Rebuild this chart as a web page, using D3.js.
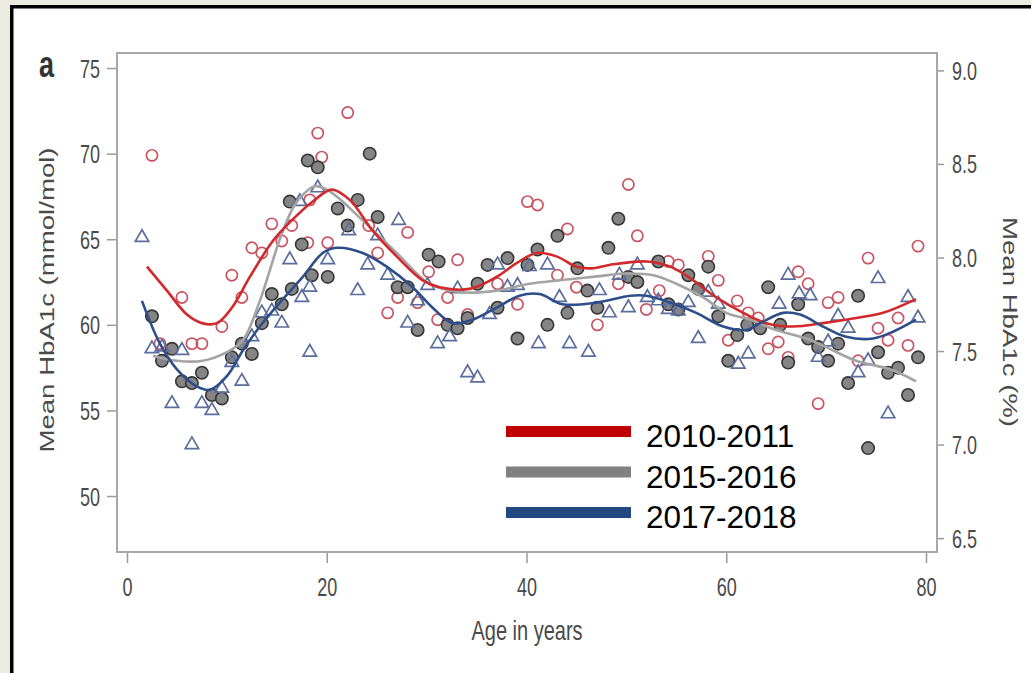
<!DOCTYPE html>
<html>
<head>
<meta charset="utf-8">
<script src="https://cdn.jsdelivr.net/npm/d3@7"></script>
<style>
    body { margin: 0; background: #ecebe2; }
    svg { display: block; }
</style>
</head>
<body>
<div id="chart"></div>
<script>
    // [age, mean HbA1c mmol/mol]
    var pts1011 = [[2.5,69.9],[3.3,58.9],[5.5,61.6],[6.5,58.9],[7.5,58.9],[9.5,59.9],[10.5,62.9],[11.5,61.6],
        [12.5,64.5],[13.5,64.2],[14.5,65.9],[15.5,64.9],[16.5,65.8],[18.1,64.8],[18.3,67.3],[19.1,71.2],
        [19.5,69.8],[20.1,64.8],[22.1,72.4],[24.2,65.8],[25.1,64.2],[26.1,60.7],[27.1,61.6],[28.1,65.4],
        [29.1,61.3],[30.2,63.1],[31.1,60.3],[32.1,61.6],[33.1,63.8],[34.1,60.6],[37.1,62.4],[39.1,61.2],
        [40.1,67.2],[41.1,67.0],[43.1,62.9],[44.1,65.6],[45.0,62.2],[47.1,60.0],[49.2,62.4],[50.2,68.2],
        [51.1,65.2],[52.0,60.9],[53.3,62.0],[54.2,63.7],[55.2,63.5],[58.2,64.0],[59.2,62.6],[60.2,59.1],
        [61.1,61.4],[62.2,60.7],[63.2,60.4],[64.2,58.6],[65.2,59.0],[66.2,58.1],[67.2,63.1],[68.2,62.4],
        [69.2,55.4],[70.2,61.3],[71.2,61.6],[73.2,57.9],[74.2,63.9],[75.2,59.8],[76.2,59.1],[77.2,60.4],
        [78.2,58.8],[79.2,64.6]];

    var pts1516 = [[2.5,60.5],[3.5,57.9],[4.5,58.6],[5.5,56.7],[6.5,56.6],[7.5,57.2],[8.5,55.9],[9.5,55.7],
        [10.5,58.1],[11.5,58.9],[12.5,58.3],[13.5,60.1],[14.5,61.8],[15.5,61.2],[16.3,67.2],[16.5,62.1],
        [17.5,64.7],[18.1,69.6],[18.5,62.9],[19.1,69.2],[20.1,62.8],[21.1,66.8],[22.1,65.8],[23.1,67.3],
        [24.3,70.0],[25.1,66.3],[27.1,62.2],[28.1,62.2],[29.1,59.7],[30.2,64.1],[31.2,63.7],[32.1,60.0],
        [33.1,59.8],[34.1,60.4],[35.1,62.4],[36.1,63.5],[37.1,61.0],[38.1,63.9],[39.1,59.2],[40.1,63.5],
        [41.1,64.4],[42.1,60.0],[43.1,65.2],[44.1,60.7],[45.1,63.3],[46.1,62.0],[47.1,61.0],[48.2,64.5],
        [49.2,66.2],[50.2,62.8],[51.1,62.5],[53.2,63.7],[54.2,61.2],[55.2,60.9],[56.2,62.9],[57.2,62.1],
        [58.2,63.4],[59.2,60.5],[60.2,57.9],[61.1,59.4],[62.1,60.0],[63.4,59.8],[64.2,62.2],[65.4,60.0],
        [66.2,57.8],[67.2,61.2],[68.2,59.2],[69.2,58.7],[70.2,57.9],[71.2,58.9],[72.2,56.6],[73.2,61.7],
        [74.2,52.8],[75.2,58.4],[76.2,57.2],[77.2,57.5],[78.2,55.9],[79.2,58.1]];

    var pts1718 = [[1.5,65.1],[2.5,58.6],[3.5,58.7],[4.5,55.4],[5.5,58.5],[6.5,53.0],[7.5,55.4],[8.5,55.0],
        [9.5,56.3],[10.5,57.8],[11.5,56.7],[12.5,59.3],[13.5,60.7],[14.5,60.8],[15.5,60.1],[16.3,63.8],
        [17.3,67.2],[17.5,61.6],[18.3,62.2],[18.3,58.4],[19.1,68.0],[20.1,63.8],[22.2,65.5],[23.1,62.0],
        [24.1,63.5],[25.1,65.2],[26.1,62.9],[27.2,66.1],[28.1,60.1],[29.1,61.4],[30.1,62.3],[31.1,58.9],
        [32.3,59.3],[33.1,62.1],[34.1,57.2],[35.1,56.9],[36.3,60.6],[37.1,63.5],[38.1,62.2],[39.1,62.3],
        [40.3,63.4],[41.2,58.9],[42.1,63.5],[43.3,61.6],[44.3,58.9],[46.2,58.4],[47.3,62.0],[48.3,60.7],
        [49.3,62.9],[50.2,61.0],[51.1,63.5],[52.1,61.6],[53.2,61.4],[54.2,60.9],[55.2,60.8],[56.2,61.3],
        [57.2,59.2],[58.2,61.9],[59.2,61.2],[61.2,57.7],[62.2,58.3],[65.3,61.2],[66.2,62.9],[67.3,61.8],
        [68.4,61.7],[69.2,58.1],[70.2,59.0],[71.2,60.5],[72.2,59.8],[73.2,57.2],[74.2,57.9],[75.2,62.7],
        [76.2,54.8],[78.2,61.6],[79.2,60.4]];

    // smoothed curves
    var fit1011 = [[2,63.4],[4,62.0],[6,60.6],[7.5,60.1],[9,60.1],[10.5,61.0],[12.3,62.8],[14.6,64.9],
        [16.5,66.1],[18.6,67.2],[20.5,67.9],[22.3,67.3],[24.6,65.5],[27,64.0],[29.6,62.6],[31.3,62.2],
        [34.3,62.1],[37,62.8],[39,63.6],[41,64.2],[43,64.0],[45,63.4],[46.5,63.3],[48.3,63.5],[52,63.7],
        [54.4,63.4],[56.7,62.6],[59,61.6],[61.7,60.7],[64,60.1],[66.7,59.9],[69.7,60.1],[73,60.4],
        [75.7,60.7],[79,61.5]];
    var fit1516 = [[2.6,58.2],[5,57.9],[7.6,57.9],[10,58.4],[11.6,59.1],[13.3,61.4],[15.3,65.0],[16.5,66.7],
        [17.3,67.4],[18.8,68.1],[20.3,67.8],[23.6,66.1],[27,64.2],[30.3,62.4],[33.6,61.9],[37,62.0],
        [40.3,62.4],[43.3,62.6],[46.6,62.8],[50,63.0],[52.7,62.9],[55,62.4],[57.7,61.6],[60,60.7],
        [62.4,60.3],[65,59.7],[68,59.2],[70,58.7],[73,57.9],[76.4,57.4],[79,56.7]];
    var fit1718 = [[1.5,61.4],[3.3,58.9],[5,57.4],[7,56.4],[8.3,56.2],[10,57.0],[11.6,58.5],[13.3,59.9],
        [15.6,61.5],[17.6,62.8],[19.6,64.2],[21,64.5],[23.6,64.2],[26,63.4],[28.6,62.2],[30.6,61.0],
        [32.6,60.1],[34.6,60.3],[37,61.0],[39.3,61.7],[41.3,61.8],[43.6,61.2],[47,61.3],[50.4,61.7],
        [52,61.7],[54.4,61.3],[57,60.7],[59.7,59.9],[62,59.7],[63.4,60.1],[65.7,60.7],[67.4,60.6],
        [69.7,59.9],[72,59.3],[74.7,59.2],[76.7,59.6],[79,60.3]];

    var legendLabels = ["2010-2011", "2015-2016", "2017-2018"];
    var xTicks = [0, 20, 40, 60, 80];
    var yTicks = [50, 55, 60, 65, 70, 75];
    var pctTicks = [6.5, 7.0, 7.5, 8.0, 8.5, 9.0];

    var marg_t = 53,
        marg_l = 117,
        width = 820,
        height = 499,
        stretch = 1.38,   // the source picture is squashed tall
        font = '"Liberation Sans", Arial, sans-serif';

    var svg = d3.select("#chart")
        .append("svg")
            .attr("width", 1031)
            .attr("height", 673);

    svg.append("rect")
        .attr("x", 11.75).attr("y", 6.75)
        .attr("width", 1040).attr("height", 700)
        .attr("fill", "#fff")
        .attr("stroke", "#000")
        .attr("stroke-width", 3.5);

    var g = svg.append("g")
        .attr("transform", "translate(" + marg_l + "," + marg_t + ")");

    var x = d3.scaleLinear().domain([-1, 81.1]).range([0, width]);
    var y = d3.scaleLinear().domain([46.73, 75.88]).range([height, 0]);
    // % = mmol/mol / 10.929 + 2.15
    var yPct = d3.scaleLinear()
        .domain(y.domain().map(function(v) { return v / 10.929 + 2.15; }))
        .range([height, 0]);

    function styleAxis(ax) {
        ax.select(".domain").remove();
        ax.attr("font-family", font).attr("font-size", 18);
        ax.selectAll("line").attr("stroke", "#9a9a9a").attr("stroke-width", 1.5);
        ax.selectAll("text").attr("fill", "#4a4a4a").attr("y", 0).attr("dy", 0);
    }

    var yAxis = g.append("g")
        .call(d3.axisLeft(y).tickValues(yTicks).tickSize(10).tickPadding(7));
    styleAxis(yAxis);
    yAxis.selectAll("text").attr("transform", "translate(0,9) scale(1," + stretch + ")");

    var rAxis = g.append("g")
        .attr("transform", "translate(" + width + ",0)")
        .call(d3.axisRight(yPct).tickValues(pctTicks).tickSize(7).tickPadding(8)
            .tickFormat(d3.format(".1f")));
    styleAxis(rAxis);
    rAxis.selectAll("text").attr("transform", "translate(0,9) scale(1," + stretch + ")");

    var xAxis = g.append("g")
        .attr("transform", "translate(0," + height + ")")
        .call(d3.axisBottom(x).tickValues(xTicks).tickSize(11));
    styleAxis(xAxis);
    xAxis.selectAll("text").attr("transform", "translate(0,44) scale(1," + stretch + ")");

    g.append("rect")
        .attr("width", width).attr("height", height)
        .attr("fill", "none")
        .attr("stroke", "#a8a8a8")
        .attr("stroke-width", 2);

    // markers
    g.selectAll(".p1011").data(pts1011).enter().append("circle")
        .attr("cx", function(d) { return x(d[0]); })
        .attr("cy", function(d) { return y(d[1]); })
        .attr("r", 5.6)
        .attr("fill", "none")
        .attr("stroke", "#c95462")
        .attr("stroke-width", 1.7);

    g.selectAll(".p1516").data(pts1516).enter().append("circle")
        .attr("cx", function(d) { return x(d[0]); })
        .attr("cy", function(d) { return y(d[1]); })
        .attr("r", 6.2)
        .attr("fill", "#858585")
        .attr("stroke", "#363636")
        .attr("stroke-width", 1.6);

    var tri = d3.symbol().type(d3.symbolTriangle).size(78);
    g.selectAll(".p1718").data(pts1718).enter().append("path")
        .attr("d", tri)
        .attr("transform", function(d) { return "translate(" + x(d[0]) + "," + y(d[1]) + ")"; })
        .attr("fill", "none")
        .attr("stroke", "#5a6d9c")
        .attr("stroke-width", 1.7);

    // smoothed lines
    var line = d3.line()
        .x(function(d) { return x(d[0]); })
        .y(function(d) { return y(d[1]); })
        .curve(d3.curveCatmullRom.alpha(0.5));

    [[fit1516, "#a4a4a4"], [fit1011, "#d2292d"], [fit1718, "#2d4e8b"]].forEach(function(f) {
        g.append("path")
            .datum(f[0])
            .attr("fill", "none")
            .attr("stroke", f[1])
            .attr("stroke-width", 2.6)
            .attr("d", line);
    });

    // titles
    svg.append("text")
        .attr("transform", "translate(39,77) scale(1," + stretch + ")")
        .attr("font-family", font).attr("font-weight", "bold").attr("font-size", 27)
        .attr("fill", "#333")
        .text("a");

    svg.append("text")
        .attr("transform", "translate(54,300) rotate(-90) scale(" + stretch + ",1)")
        .attr("font-family", font).attr("font-size", 20)
        .attr("text-anchor", "middle")
        .attr("fill", "#4a4a4a")
        .text("Mean HbA1c (mmol/mol)");

    svg.append("text")
        .attr("transform", "translate(1003,322) rotate(90) scale(" + stretch + ",1)")
        .attr("font-family", font).attr("font-size", 20)
        .attr("text-anchor", "middle")
        .attr("fill", "#4a4a4a")
        .text("Mean HbA1c (%)");

    svg.append("text")
        .attr("transform", "translate(527,640) scale(1," + stretch + ")")
        .attr("font-family", font).attr("font-size", 20)
        .attr("text-anchor", "middle")
        .attr("fill", "#4a4a4a")
        .text("Age in years");

    // legend
    var legColors = ["#c00000", "#808080", "#234a80"];
    var leg = svg.append("g");
    legendLabels.forEach(function(lab, i) {
        var ly = 431.5 + i * 40.5;
        leg.append("line")
            .attr("x1", 506).attr("x2", 631)
            .attr("y1", ly).attr("y2", ly)
            .attr("stroke", legColors[i])
            .attr("stroke-width", 11);
        leg.append("text")
            .attr("x", 646).attr("y", ly + 15.5)
            .attr("font-family", font).attr("font-size", 31.5)
            .attr("fill", "#000")
            .text(lab);
    });
</script>
</body>
</html>
